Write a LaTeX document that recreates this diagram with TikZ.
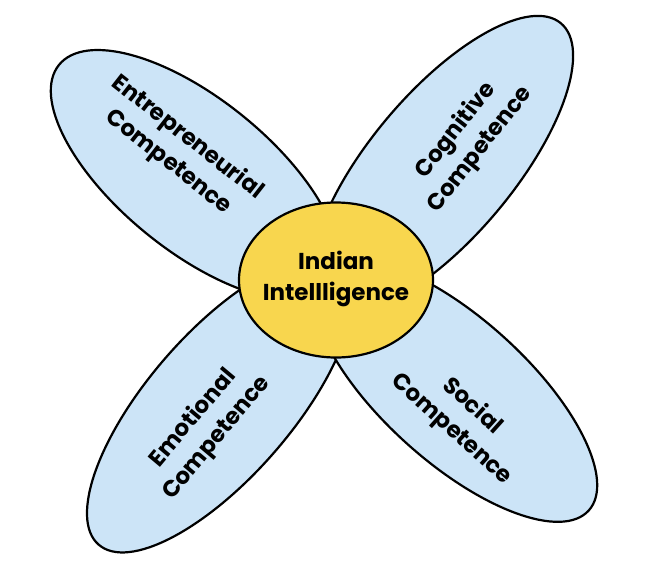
\documentclass[tikz,border=0pt]{standalone}
\usepackage{fontspec}
\setmainfont{Poppins}
\usetikzlibrary{shapes.geometric}
\begin{document}
\begin{tikzpicture}[x=1pt,y=-1pt,
  lbl/.style={font=\fontsize{23}{31}\selectfont\bfseries,align=center}]
\definecolor{petalblue}{HTML}{CCE4F7}
\definecolor{coreyellow}{HTML}{F8D64E}
\useasboundingbox (0,0) rectangle (672,574);
\draw[line width=2.2pt,fill=petalblue,rotate around={50:(442,165)}] (442,165) ellipse (185pt and 72pt);
\draw[line width=2.2pt,fill=petalblue,rotate around={-39:(195,175)}] (195,175) ellipse (175pt and 76pt);
\draw[line width=2.2pt,fill=petalblue,rotate around={49:(220,405)}] (220,405) ellipse (185pt and 72pt);
\draw[line width=2.2pt,fill=petalblue,rotate around={-42:(455,390)}] (455,390) ellipse (180pt and 72pt);
\node[draw=black,line width=2.2pt,fill=coreyellow,ellipse,minimum width=194pt,minimum height=155pt,inner sep=0pt] (core) at (336,280) {};
\node[lbl] (t) at (336,279) {Indian\\Intellligence};
\node[lbl,rotate=-38] (ul) at (178,150) {Entrepreneurial\\Competence};
\node[lbl,rotate=52] (ur) at (468,140) {Cognitive\\Competence};
\node[lbl,rotate=50] (ll) at (205,428) {Emotional\\Competence};
\node[lbl,rotate=-42] (lr) at (462,418) {Social\\Competence};
\end{tikzpicture}
\end{document}
